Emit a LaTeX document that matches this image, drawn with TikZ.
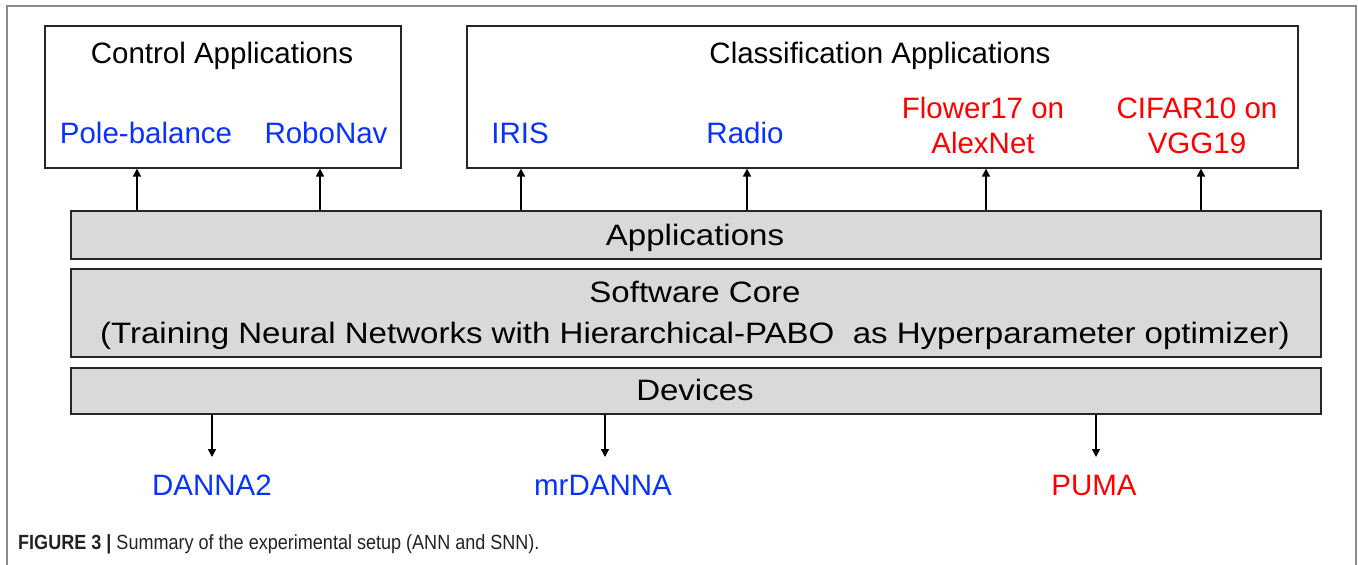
\documentclass[tikz,border=0pt]{standalone}
\usepackage{fontspec}
\setmainfont{Liberation Sans}
\usetikzlibrary{arrows.meta}
\definecolor{tblue}{HTML}{0A32FF}
\definecolor{tred}{HTML}{FF0000}
\definecolor{barfill}{HTML}{D9D9D9}
\definecolor{edge}{HTML}{262626}
\definecolor{framegray}{HTML}{8A8A8A}
\definecolor{captext}{HTML}{222222}
\tikzset{
  appbox/.style={draw=edge, line width=1.6pt, fill=white, anchor=north west, inner sep=0pt},
  barbox/.style={draw=edge, line width=1.6pt, fill=barfill, anchor=north west, inner sep=0pt},
  lbl/.style={anchor=base, inner sep=0pt, font=\fontsize{29.5}{35}\selectfont},
  lbl2/.style={anchor=base, inner sep=0pt, align=center, font=\fontsize{29.5}{35}\selectfont},
  arr/.style={line width=1.5pt, -{Triangle[width=8pt,length=8pt]}}
}
\newcommand{\barstretch}[1]{\scalebox{1.12}[1]{#1}}
\begin{document}
\begin{tikzpicture}[x=1pt,y=-1pt]
\useasboundingbox (0,0) rectangle (1358,565);
% outer frame
\draw[framegray, line width=1.5pt] (7,566) -- (7,6) -- (1356,6) -- (1356,566);
% boxes
\node[appbox, minimum width=356pt, minimum height=142pt] (ctrl) at (44,25) {};
\node[appbox, minimum width=831pt, minimum height=142pt] (cls) at (466,25) {};
\node[barbox, minimum width=1250pt, minimum height=48pt] (apps) at (70,210) {};
\node[barbox, minimum width=1250pt, minimum height=88pt] (core) at (70,268) {};
\node[barbox, minimum width=1250pt, minimum height=46pt] (dev) at (70,367) {};
% texts in boxes
\node[lbl] (ctrlt) at (222,63) {Control Applications};
\node[lbl, text=tblue] (pole) at (146,143) {Pole-balance};
\node[lbl, text=tblue] (robo) at (326,143) {RoboNav};
\node[lbl] (clst) at (880,63) {Classification Applications};
\node[lbl, text=tblue] (iris) at (520,143) {IRIS};
\node[lbl, text=tblue] (radio) at (745,143) {Radio};
\node[lbl2, text=tred] (flower) at (983,153) {Flower17 on\\AlexNet};
\node[lbl2, text=tred] (cifar) at (1197,153) {CIFAR10 on\\VGG19};
\node[lbl] (appst) at (695,245) {\barstretch{Applications}};
\node[lbl] (coret) at (695,343) {\barstretch{\begin{tabular}[b]{@{}c@{}}Software Core\\[6pt](Training Neural Networks with Hierarchical-PABO\ \ as Hyperparameter optimizer)\end{tabular}}};
\node[lbl] (devt) at (695,400) {\barstretch{Devices}};
% device labels
\node[lbl, text=tblue] (danna) at (212,495) {DANNA2};
\node[lbl, text=tblue] (mrdanna) at (603,495) {mrDANNA};
\node[lbl, text=tred] (puma) at (1094,495) {PUMA};
% arrow x positions
\coordinate (u1) at (137,0);
\coordinate (u2) at (320,0);
\coordinate (u3) at (521,0);
\coordinate (u4) at (747,0);
\coordinate (u5) at (986,0);
\coordinate (u6) at (1201,0);
\coordinate (d1) at (212,457);
\coordinate (d2) at (605,457);
\coordinate (d3) at (1096,457);
% up arrows
\draw[arr] (apps.north -| u1) -- (ctrl.south -| u1);
\draw[arr] (apps.north -| u2) -- (ctrl.south -| u2);
\draw[arr] (apps.north -| u3) -- (cls.south -| u3);
\draw[arr] (apps.north -| u4) -- (cls.south -| u4);
\draw[arr] (apps.north -| u5) -- (cls.south -| u5);
\draw[arr] (apps.north -| u6) -- (cls.south -| u6);
% down arrows
\draw[arr] (dev.south -| d1) -- (d1);
\draw[arr] (dev.south -| d2) -- (d2);
\draw[arr] (dev.south -| d3) -- (d3);
% caption
\node[anchor=base west, inner sep=0pt, text=captext] (cap) at (18,549) {\scalebox{0.88}[1]{\fontsize{20.5}{22}\selectfont\textbf{FIGURE 3 |} Summary of the experimental setup (ANN and SNN).}};
\end{tikzpicture}
\end{document}
